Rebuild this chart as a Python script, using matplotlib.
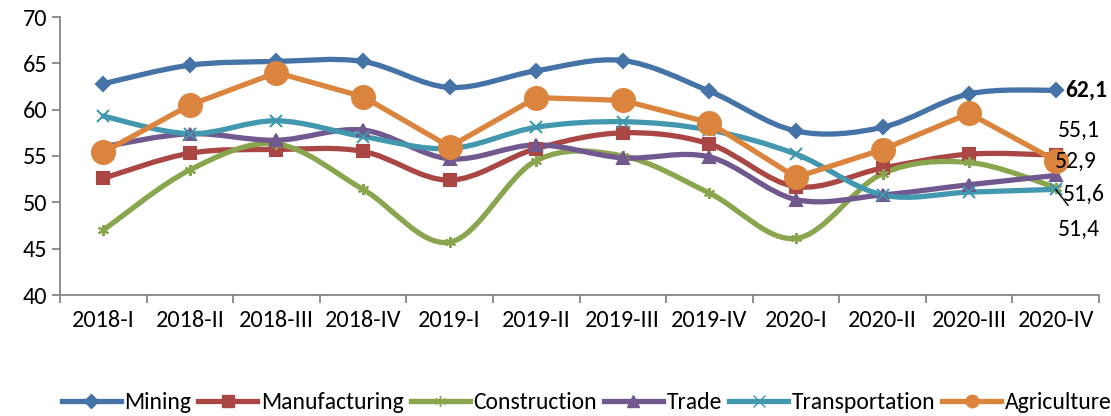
import numpy as np
import matplotlib
matplotlib.use("Agg")
import matplotlib.pyplot as plt
from matplotlib.path import Path
from matplotlib.patches import PathPatch
from matplotlib.lines import Line2D

categories = ["2018-I", "2018-II", "2018-III", "2018-IV", "2019-I", "2019-II",
              "2019-III", "2019-IV", "2020-I", "2020-II", "2020-III", "2020-IV"]

mining = [62.8, 64.8, 65.2, 65.2, 62.4, 64.2, 65.3, 62.0, 57.7, 58.1, 61.7, 62.1]
manufacturing = [52.6, 55.3, 55.7, 55.5, 52.4, 55.8, 57.5, 56.3, 51.7, 53.7, 55.2, 55.1]
construction = [47.0, 53.5, 56.3, 51.4, 45.7, 54.5, 55.0, 51.0, 46.1, 53.1, 54.3, 51.6]
trade = [56.0, 57.4, 56.7, 57.8, 54.7, 56.2, 54.8, 54.9, 50.3, 50.8, 51.9, 52.9]
transportation = [59.3, 57.4, 58.8, 57.1, 55.8, 58.1, 58.7, 57.8, 55.2, 50.8, 51.1, 51.4]
agriculture = [55.4, 60.5, 64.0, 61.4, 56.0, 61.3, 61.0, 58.6, 52.7, 55.7, 59.6, 54.5]

series = [
    ("Mining", mining, "#4572A7", "D", 7, True),
    ("Manufacturing", manufacturing, "#AA4643", "s", 9, True),
    ("Construction", construction, "#89A54E", (6, 2, 0), 8, True),
    ("Trade", trade, "#71588F", "^", 9, True),
    ("Transportation", transportation, "#4198AF", "x", 8, True),
    ("Agriculture", agriculture, "#DB843D", "o", 17, False),
]

FONT = ["Carlito", "Open Sans", "DejaVu Sans"]
FS = 17.5

fig = plt.figure(figsize=(11.11, 4.16), dpi=100)
ax = fig.add_axes([60/1111, 121/416, 1039/1111, 278/416])
x = np.arange(len(categories))

def smooth_path(xs, ys):
    pts = np.column_stack([xs, ys]).astype(float)
    verts = [pts[0]]
    codes = [Path.MOVETO]
    n = len(pts)
    for i in range(n - 1):
        p0 = pts[i - 1] if i > 0 else pts[i]
        p1 = pts[i]
        p2 = pts[i + 1]
        p3 = pts[i + 2] if i + 2 < n else pts[i + 1]
        c1 = p1 + (p2 - p0) / 6.0
        c2 = p2 - (p3 - p1) / 6.0
        verts += [c1, c2, p2]
        codes += [Path.CURVE4] * 3
    return Path(verts, codes)

lw = 3.8
for name, vals, col, mk, ms, smooth in series:
    if smooth:
        patch = PathPatch(smooth_path(x, vals), facecolor="none", edgecolor=col,
                          lw=lw, capstyle="round", joinstyle="round", zorder=2)
        ax.add_patch(patch)
        ax.plot(x, vals, linestyle="none", marker=mk, markersize=ms, color=col,
                markeredgecolor=col, markeredgewidth=1.5, zorder=3)
    else:
        ax.plot(x, vals, color=col, lw=lw, marker=mk, markersize=ms,
                markeredgecolor=col, zorder=3)

ax.set_xlim(-0.5, len(categories) - 0.5)
ax.set_ylim(40, 70)
ax.set_yticks(np.arange(40, 71, 5))
ax.set_xticks(x)
ax.set_xticklabels(categories)
ax.set_xticks(np.arange(-0.5, len(categories), 1), minor=True)
ax.tick_params(axis="x", which="major", length=0, pad=11, labelsize=FS)
ax.tick_params(axis="x", which="minor", length=6, color="#868686", width=1.3, direction="out")
ax.tick_params(axis="y", length=6, color="#868686", width=1.3, labelsize=FS, pad=3)
for lab in ax.get_xticklabels() + ax.get_yticklabels():
    lab.set_fontfamily(FONT)
for s in ["top", "right"]:
    ax.spines[s].set_visible(False)
for s in ["left", "bottom"]:
    ax.spines[s].set_color("#868686")
    ax.spines[s].set_linewidth(1.3)

# data labels for the last quarter
last = len(categories) - 1
lab_font = dict(fontsize=17, family=FONT, annotation_clip=False)
def fmt(v):
    return f"{v:.1f}".replace(".", ",")
ax.annotate(fmt(mining[-1]), (last, mining[-1]),
            xytext=(7, 0), textcoords="offset points", va="center", ha="left",
            fontweight="bold", **lab_font)
ax.annotate(fmt(manufacturing[-1]), (last, manufacturing[-1]),
            xytext=(1.5, 18), textcoords="offset points", va="center", ha="left", **lab_font)
ax.annotate(fmt(trade[-1]), (last, trade[-1]),
            xytext=(-0.7, 10), textcoords="offset points", va="center", ha="left", **lab_font)
ax.annotate(fmt(construction[-1]), (last, construction[-1]),
            xytext=(5, -5), textcoords="offset points", va="center", ha="left", **lab_font)
ax.annotate(fmt(transportation[-1]), (last, transportation[-1]),
            xytext=(1.5, -29), textcoords="offset points", va="center", ha="left",
            arrowprops=dict(arrowstyle="-", color="black", lw=1,
                            shrinkA=10, shrinkB=0, relpos=(0.5, 1.0)),
            **lab_font)

handles = [Line2D([0], [0], color=col, lw=lw, marker=mk,
                  markersize=min(ms, 9), markeredgecolor=col)
           for name, vals, col, mk, ms, smooth in series]
fig.legend(handles, [s[0] for s in series], loc="center", bbox_to_anchor=(0.528, 0.033),
           ncol=6, frameon=False, handlelength=2.5, handletextpad=0.15, columnspacing=0.3,
           prop=dict(family=FONT, size=17))

fig.savefig("out.png", dpi=100)
